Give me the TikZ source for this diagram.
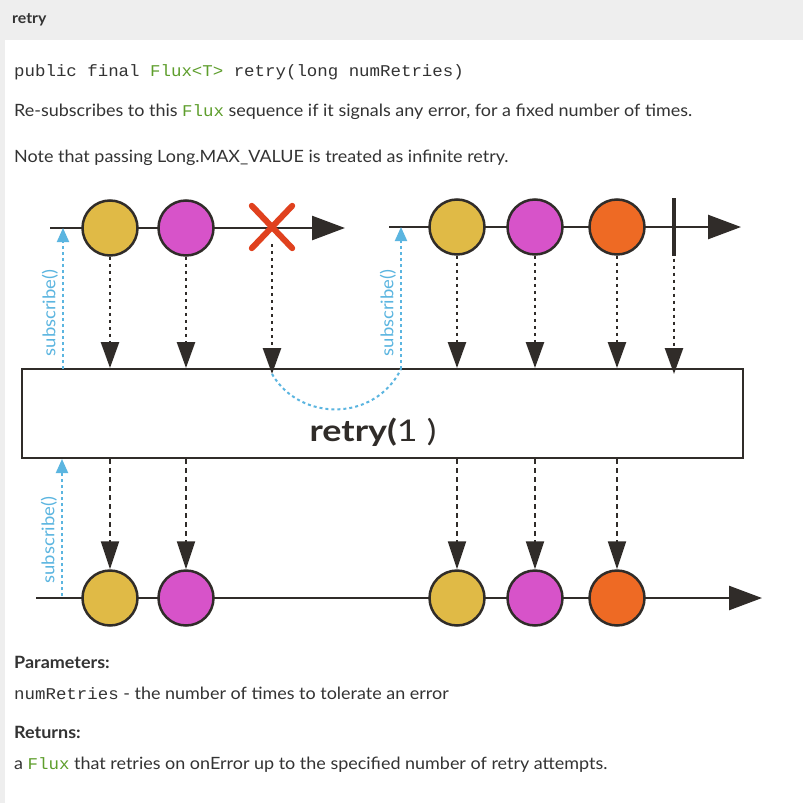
\documentclass[tikz,border=0pt]{standalone}
\usepackage{fontspec}
\setmainfont{Lato}[FakeStretch=1.06]
\setmonofont{Liberation Mono}[FakeStretch=1.06]
\newfontfamily\opfont{Lato}[FakeStretch=1.2]
\usetikzlibrary{arrows.meta}

\definecolor{fluxgreen}{HTML}{5E9E2C}
\definecolor{ink}{HTML}{302C29}
\definecolor{marbleyellow}{HTML}{E0BA46}
\definecolor{marblepink}{HTML}{D753C9}
\definecolor{marbleorange}{HTML}{EE6A24}
\definecolor{errred}{HTML}{E0411E}
\definecolor{subblue}{HTML}{5BB5E0}
\definecolor{bargray}{HTML}{EEEEEE}
\definecolor{textgray}{HTML}{333333}

\newcommand{\fluxword}{{\fontsize{16.5}{18}\ttfamily\color{fluxgreen}Flux}}

\tikzset{
  marble/.style={circle, draw=ink, line width=2.5bp, minimum size=55bp, inner sep=0pt},
  timeline/.style={ink, line width=2.5bp, -{Triangle[length=33bp,width=24bp]}},
  emitdot/.style={ink, line width=2.6bp, dash pattern=on 3bp off 4bp, -{Triangle[length=26bp,width=18bp]}},
  emitdash/.style={ink, line width=2bp, dash pattern=on 5bp off 4bp, -{Triangle[length=28bp,width=18bp]}},
  subarrow/.style={subblue, line width=2bp, dash pattern=on 3bp off 3bp, -{Triangle[length=14bp,width=12bp]}},
  sublabel/.style={subblue, rotate=90, font=\fontsize{17.5}{18}\selectfont, inner sep=0pt},
  doc/.style={anchor=base west, inner sep=0pt, text=textgray, font=\fontsize{17}{19}\selectfont},
}

\begin{document}
\begin{tikzpicture}[x=1bp, y=-1bp]
\useasboundingbox (0,0) rectangle (803,803);
\fill[bargray] (0,0) rectangle (803,803);
\fill[white] (5,40) rectangle (803,803);

% page text
\node[doc, font=\fontsize{15}{16}\selectfont\bfseries] (title) at (12,24) {retry};
\node[doc, font=\fontsize{16.5}{18}\ttfamily] (sig) at (14,77)
  {public final {\color{fluxgreen}Flux<T>} retry(long numRetries)};
\node[doc] (desc) at (14,116) {Re-subscribes to this \fluxword{} sequence if it signals any error, for a fixed number of times.};
\node[doc] (note) at (14,162) {Note that passing Long.MAX\_VALUE is treated as infinite retry.};
\node[doc, font=\fontsize{17}{19}\selectfont\bfseries] (params) at (14,668) {Parameters:};
\node[doc] (param1) at (14,699) {{\fontsize{16.5}{18}\ttfamily numRetries} - the number of times to tolerate an error};
\node[doc, font=\fontsize{17}{19}\selectfont\bfseries] (returns) at (14,738) {Returns:};
\node[doc] (ret1) at (14,769) {a \fluxword{} that retries on onError up to the specified number of retry attempts.};

% operator box
\node[draw=ink, line width=2bp, minimum width=721bp, minimum height=89bp, inner sep=0pt] (op) at (382.5,413.5) {};
\node[text=ink, font=\fontsize{30}{32}\opfont] (oplabel) at (373,432) {\textbf{retry(}1 )};

% first subscription
\draw[timeline] (50,228) -- (345,228);
\node[marble, fill=marbleyellow] (t1) at (110,228) {};
\node[marble, fill=marblepink] (t2) at (186,228) {};
\node[minimum width=40bp, minimum height=42bp, inner sep=0pt] (err) at (272,227) {};
\draw[errred, line width=6bp, line cap=round] (err.north west) -- (err.south east) (err.north east) -- (err.south west);

% second subscription
\draw[timeline] (389,227) -- (741,227);
\node[marble, fill=marbleyellow] (r1) at (457,227) {};
\node[marble, fill=marblepink] (r2) at (535,227) {};
\node[marble, fill=marbleorange] (r3) at (617,227) {};
\node[minimum width=0pt, minimum height=57bp, inner sep=0pt] (done) at (674,227) {};
\draw[ink, line width=4bp] (done.north) -- (done.south);

% result
\draw[timeline] (36,598) -- (762,598);
\foreach \name/\x/\col in {b1/110/marbleyellow, b2/186/marblepink, b3/457/marbleyellow, b4/535/marblepink, b5/617/marbleorange}
  \node[marble, fill=\col] (\name) at (\x,598) {};

% emissions into the operator
\foreach \src in {t1, t2, r1, r2, r3}
  \draw[emitdot] (\src.south) -- (\src.south |- op.north);
\draw[emitdot] ([yshift=4bp]err.south) -- ([yshift=-6bp]err.south |- op.north);
\draw[emitdot] ([yshift=4bp]done.south) -- ([yshift=-6bp]done.south |- op.north);

% emissions out of the operator
\foreach \src/\dst in {t1/b1, t2/b2, r1/b3, r2/b4, r3/b5}
  \draw[emitdash] (\dst.north |- op.south) -- (\dst.north);

% subscribe calls
\coordinate (sub1) at (63,369);
\coordinate (sub2) at (401,369);
\coordinate (sub3) at (62,596);
\draw[subarrow] (sub1) -- (sub1 |- t1.center);
\draw[subarrow] (sub2) -- (sub2 |- r1.center);
\draw[subarrow] (sub3) -- (sub3 |- op.south);
\node[sublabel] (sl1) at (50,313) {subscribe()};
\node[sublabel] (sl2) at (388,313) {subscribe()};
\node[sublabel] (sl3) at (49,540) {subscribe()};
\draw[subblue, line width=2bp, dash pattern=on 3bp off 3bp]
  ([yshift=-6bp]err.south |- op.north) .. controls (300,422) and (375,422) .. (sub2);
\end{tikzpicture}
\end{document}
